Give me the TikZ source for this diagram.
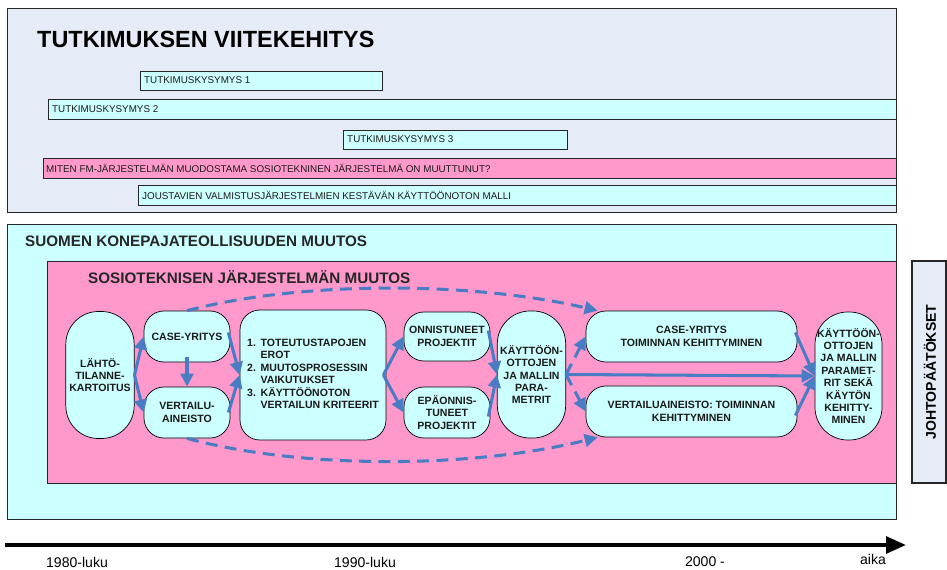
\documentclass[tikz,border=0pt]{standalone}
\usepackage{fontspec}
\setmainfont{Liberation Sans}
\usetikzlibrary{arrows.meta, calc}
\definecolor{syaani}{HTML}{CCFFFF}
\definecolor{pinkki}{HTML}{FF99CC}
\definecolor{laventeli}{HTML}{E6ECF7}
\definecolor{sininen}{HTML}{4A7CC4}
\definecolor{teksti}{HTML}{1A1A1A}
\tikzset{%
  paneeli/.style={draw=black!85, line width=0.7pt},
  palkki/.style={draw=black!85, line width=0.6pt},
  palkkiteksti/.style={anchor=west, inner sep=0pt, text=teksti, font=\fontsize{8.4}{9}\selectfont},
  otsikko/.style={anchor=west, inner sep=0pt, text=black!85, font=\fontsize{13}{15}\selectfont\bfseries},
  laatikko/.style={draw=black, fill=syaani, line width=0.6pt, align=center, inner sep=0pt,
                   text=teksti, font=\fontsize{9}{10.6}\selectfont\bfseries, rounded corners=0.6cm},
  soikio/.style={laatikko, minimum width=2.05cm, minimum height=3.81cm, rounded corners=0.98cm},
  nuoli/.style={draw=sininen, line width=2.6pt, -{Triangle[length=3.9mm, width=3.8mm]}},
  katko/.style={nuoli, dash pattern=on 3.6mm off 2.2mm},
}

\begin{document}
\begin{tikzpicture}[x=0.03cm, y=-0.03cm]
    \useasboundingbox (0,0) rectangle (947,570);

    % tutkimuksen viitekehitys
    \filldraw[paneeli, fill=laventeli] (7,8) rectangle (896,212);
    \node[anchor=west, inner sep=0pt, font=\fontsize{20}{22}\selectfont\bfseries] (viite) at (37,39) {TUTKIMUKSEN VIITEKEHITYS};

    \filldraw[palkki, fill=syaani] (140,71) rectangle (382,90);
    \node[palkkiteksti] (k1) at (144,80.5) {TUTKIMUSKYSYMYS 1};
    \filldraw[palkki, fill=syaani] (48,99) rectangle (896,119);
    \node[palkkiteksti] (k2) at (52,109) {TUTKIMUSKYSYMYS 2};
    \filldraw[palkki, fill=syaani] (343,130) rectangle (567,149);
    \node[palkkiteksti] (k3) at (347,139.5) {TUTKIMUSKYSYMYS 3};
    \filldraw[palkki, fill=pinkki] (43,158) rectangle (896,178);
    \node[palkkiteksti] (miten) at (46,168) {MITEN FM-JÄRJESTELMÄN MUODOSTAMA SOSIOTEKNINEN JÄRJESTELMÄ ON MUUTTUNUT?};
    \filldraw[palkki, fill=syaani] (138,185) rectangle (896,205);
    \node[palkkiteksti] (malli) at (142,195) {JOUSTAVIEN VALMISTUSJÄRJESTELMIEN KESTÄVÄN KÄYTTÖÖNOTON MALLI};

    % konepajateollisuus ja sosiotekninen muutos
    \filldraw[paneeli, fill=syaani] (7,224) rectangle (896,519);
    \node[otsikko] (suomi) at (25,241.5) {SUOMEN KONEPAJATEOLLISUUDEN MUUTOS};
    \filldraw[paneeli, fill=pinkki] (47,261) rectangle (896,483);
    \node[otsikko] (sosio) at (88,277) {SOSIOTEKNISEN JÄRJESTELMÄN MUUTOS};

    % johtopaatokset
    \filldraw[paneeli, line width=1pt, fill=laventeli] (912,261) rectangle (946,483);
    \node[rotate=90, inner sep=0pt, font=\fontsize{12}{14}\selectfont\bfseries] (johto) at (930,372) {JOHTOPÄÄTÖKSET};

    % solmut
    \node[soikio] (lahto) at (100,375) {LÄHTÖ-\\TILANNE-\\KARTOITUS};
    \node[laatikko, minimum width=2.58cm, minimum height=1.53cm] (case) at (187,336.5) {CASE-YRITYS};
    \node[laatikko, minimum width=2.58cm, minimum height=1.53cm] (vert) at (187,412.5) {VERTAILU-\\AINEISTO};
    \node[laatikko, minimum width=4.38cm, minimum height=3.9cm] (lista) at (313,375)
      {\begin{tabular}{@{}l@{\hspace{4pt}}l@{}}1.&TOTEUTUSTAPOJEN\\ &EROT\\2.&MUUTOSPROSESSIN\\ &VAIKUTUKSET\\3.&KÄYTTÖÖNOTON\\ &VERTAILUN KRITEERIT\end{tabular}};
    \node[laatikko, minimum width=2.58cm, minimum height=1.47cm] (onn) at (447,336.5) {ONNISTUNEET\\PROJEKTIT};
    \node[laatikko, minimum width=2.58cm, minimum height=1.53cm] (epa) at (447,412.5) {EPÄONNIS-\\TUNEET\\PROJEKTIT};
    \node[soikio] (param) at (531.5,374.5) {KÄYTTÖÖN-\\OTTOJEN\\JA MALLIN\\PARA-\\METRIT};
    \node[laatikko, minimum width=6.33cm, minimum height=1.53cm] (caseT) at (691.5,336.5) {CASE-YRITYS\\TOIMINNAN KEHITTYMINEN};
    \node[laatikko, minimum width=6.33cm, minimum height=1.53cm] (vertT) at (691.5,411.5) {VERTAILUAINEISTO: TOIMINNAN\\KEHITTYMINEN};
    \node[soikio, minimum width=2.01cm, minimum height=3.84cm] (loppu) at (848.5,376) {KÄYTTÖÖN-\\OTTOJEN\\JA MALLIN\\PARAMET-\\RIT SEKÄ\\KÄYTÖN\\KEHITTY-\\MINEN};

    % nuolet
    \draw[nuoli] (lahto.east) -- (case.west);
    \draw[nuoli] (lahto.east) -- (vert.west);
    \draw[nuoli] ([yshift=0.15cm]case.south) -- (vert.north);
    \draw[nuoli] ([xshift=-0.06cm, yshift=0.12cm]case.east) -- (lista.west);
    \draw[nuoli] ([xshift=-0.06cm]vert.east) -- (lista.west);
    \draw[nuoli] ([xshift=-0.09cm]lista.east) -- (onn.west);
    \draw[nuoli] ([xshift=-0.09cm]lista.east) -- (epa.west);
    \draw[nuoli] ([xshift=-0.06cm, yshift=0.18cm]onn.east) -- (param.west);
    \draw[nuoli] ([xshift=-0.06cm, yshift=-0.12cm]epa.east) -- (param.west);
    \draw[katko] (param.east) -- (caseT.west);
    \draw[katko] (param.east) -- (vertT.west);
    \draw[nuoli] (param.east) -- (loppu.west);
    \draw[nuoli] ([xshift=-0.06cm, yshift=0.12cm]caseT.east) -- (loppu.west);
    \draw[nuoli] ([xshift=-0.06cm, yshift=-0.12cm]vertT.east) -- (loppu.west);

    % katkoviivakaaret
    \draw[katko] (case.north) .. controls (300,281) and (470,281) .. ([xshift=0.36cm]caseT.north west);
    \draw[katko] (vert.south) .. controls (300,469) and (470,469) .. ([xshift=0.36cm]vertT.south west);

    % aikajana
    \coordinate (alku) at (5,545);
    \coordinate (loppupiste) at (906,545);
    \draw[line width=3.4pt, -{Triangle[length=6mm, width=5mm]}] (alku) -- (loppupiste);
    \node[font=\fontsize{12}{14}\selectfont] (v80) at (77,562) {1980-luku};
    \node[font=\fontsize{12}{14}\selectfont] (v90) at (365,562) {1990-luku};
    \node[font=\fontsize{12}{14}\selectfont] (v00) at (705,562) {2000 -};
    \node[font=\fontsize{12}{14}\selectfont] (aika) at (873,559) {aika};
\end{tikzpicture}
\end{document}
